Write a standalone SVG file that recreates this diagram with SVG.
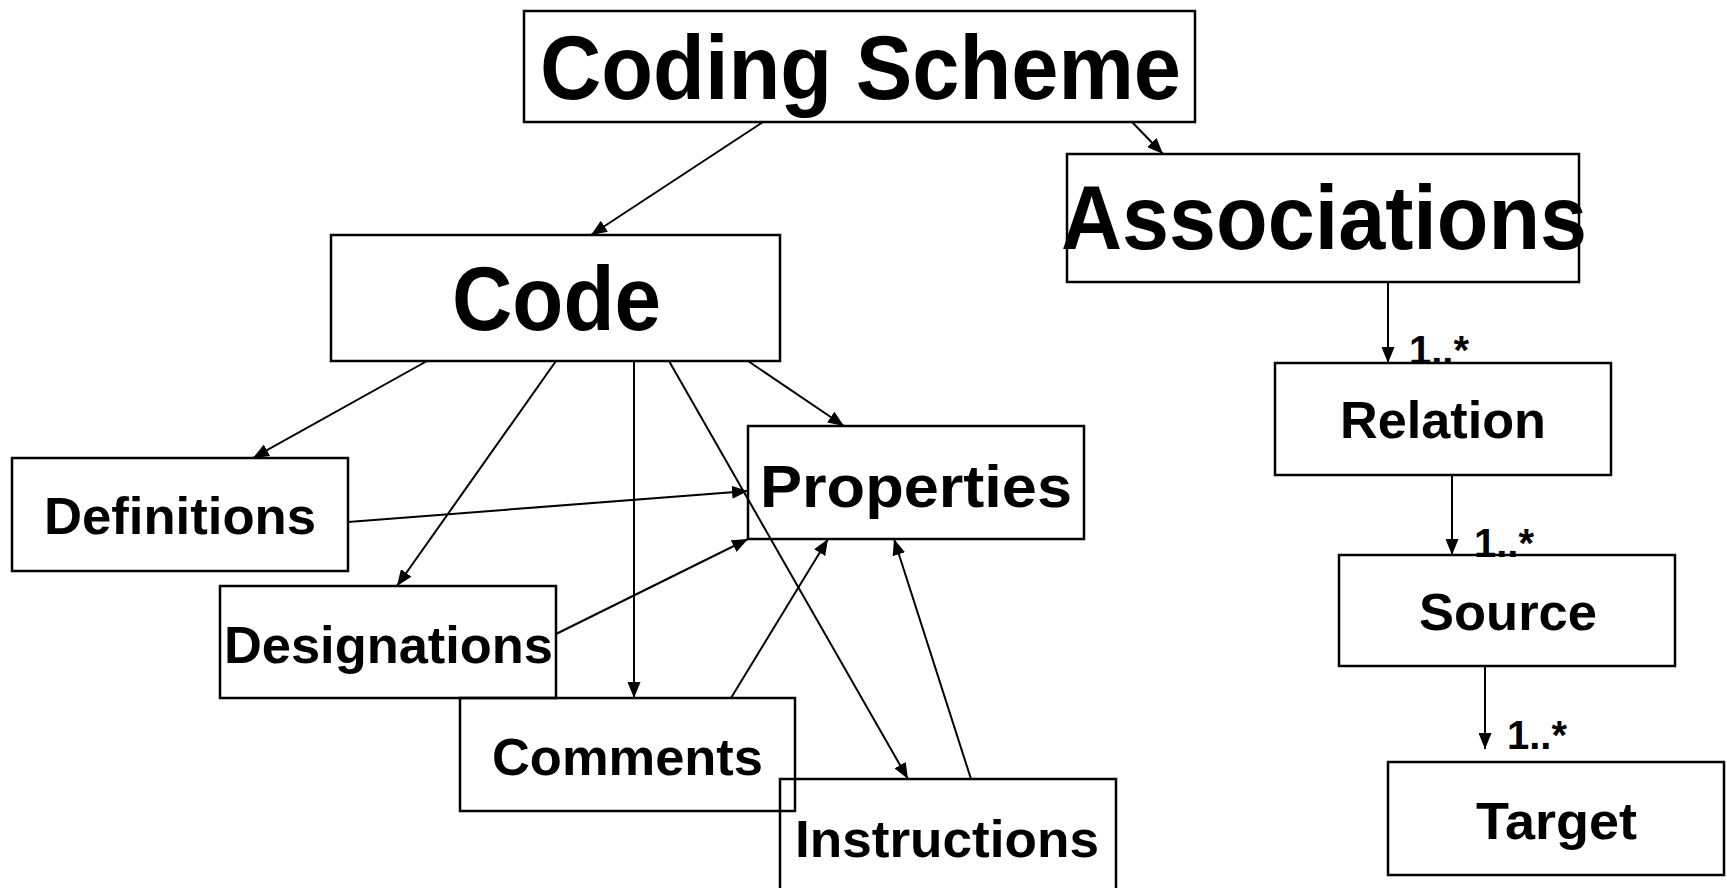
<svg xmlns="http://www.w3.org/2000/svg" width="1727" height="888" viewBox="0 0 1727 888">
<style>
.box{fill:none;stroke:#000;stroke-width:2.5}
.t{font-family:"Liberation Sans",Arial,sans-serif;font-weight:bold;fill:#000}
.big{font-size:90px}
.sm{font-size:52px}
.m{font-size:40px}
.c{stroke:#000;stroke-width:2;fill:none;marker-end:url(#ah)}
</style>
<defs>
<marker id="ah" viewBox="0 0 16 13" refX="16" refY="6.5" markerWidth="16" markerHeight="13" markerUnits="userSpaceOnUse" orient="auto">
<path d="M0,0 L16,6.5 L0,13 Z" fill="#000"/>
</marker>
</defs>
<rect width="1727" height="888" fill="#fff"/>
<g id="coding-scheme">
<rect class="box" x="524" y="11" width="671" height="111"/>
<text class="t big" x="540" y="99" textLength="641" lengthAdjust="spacingAndGlyphs">Coding Scheme</text>
</g>
<g id="associations">
<rect class="box" x="1067" y="154" width="512" height="128"/>
<text class="t big" x="1061" y="249" textLength="526" lengthAdjust="spacingAndGlyphs">Associations</text>
</g>
<g id="code">
<rect class="box" x="331" y="235" width="449" height="126"/>
<text class="t big" x="452" y="330" textLength="209" lengthAdjust="spacingAndGlyphs">Code</text>
</g>
<g id="definitions">
<rect class="box" x="12" y="458" width="336" height="113"/>
<text class="t sm" x="44" y="534" textLength="272" lengthAdjust="spacingAndGlyphs">Definitions</text>
</g>
<g id="properties">
<rect class="box" x="748" y="426" width="336" height="113"/>
<text class="t" x="760" y="507" textLength="312" lengthAdjust="spacingAndGlyphs" style="font-size:60px">Properties</text>
</g>
<g id="designations">
<rect class="box" x="220" y="586" width="336" height="112"/>
<text class="t sm" x="224" y="663" textLength="329" lengthAdjust="spacingAndGlyphs">Designations</text>
</g>
<g id="comments">
<rect class="box" x="460" y="698" width="335" height="113"/>
<text class="t sm" x="492" y="775" textLength="271" lengthAdjust="spacingAndGlyphs">Comments</text>
</g>
<g id="instructions">
<rect class="box" x="780" y="779" width="336" height="120"/>
<text class="t sm" x="795" y="857" textLength="304" lengthAdjust="spacingAndGlyphs">Instructions</text>
</g>
<g id="relation">
<rect class="box" x="1275" y="363" width="336" height="112"/>
<text class="t sm" x="1340" y="438" textLength="206" lengthAdjust="spacingAndGlyphs">Relation</text>
</g>
<g id="source">
<rect class="box" x="1339" y="555" width="336" height="111"/>
<text class="t sm" x="1419" y="630" textLength="178" lengthAdjust="spacingAndGlyphs">Source</text>
</g>
<g id="target">
<rect class="box" x="1388" y="762" width="336" height="113"/>
<text class="t sm" x="1476" y="839" textLength="161" lengthAdjust="spacingAndGlyphs">Target</text>
</g>
<g id="connectors">
<line class="c" x1="763" y1="122" x2="591" y2="235"/>
<line class="c" x1="1132" y1="122" x2="1163" y2="154"/>
<line class="c" x1="1388" y1="282" x2="1388" y2="363"/>
<line class="c" x1="1452" y1="475" x2="1452" y2="555"/>
<line class="c" x1="1485" y1="666" x2="1485" y2="749"/>
<line class="c" x1="427" y1="361" x2="253" y2="458"/>
<line class="c" x1="556" y1="361" x2="397" y2="586"/>
<line class="c" x1="634" y1="361" x2="634" y2="698"/>
<line class="c" x1="669" y1="361" x2="908" y2="779"/>
<line class="c" x1="748" y1="361" x2="844" y2="426"/>
<line class="c" x1="348" y1="522" x2="748" y2="491"/>
<line class="c" x1="556" y1="634" x2="748" y2="539"/>
<line class="c" x1="731" y1="698" x2="828" y2="539"/>
<line class="c" x1="971" y1="779" x2="894" y2="539"/>
</g>
<g id="labels">
<text class="t m" x="1409" y="364" textLength="60" lengthAdjust="spacingAndGlyphs">1..*</text>
<text class="t m" x="1474" y="557" textLength="60" lengthAdjust="spacingAndGlyphs">1..*</text>
<text class="t m" x="1507" y="749" textLength="60" lengthAdjust="spacingAndGlyphs">1..*</text>
</g>
</svg>
